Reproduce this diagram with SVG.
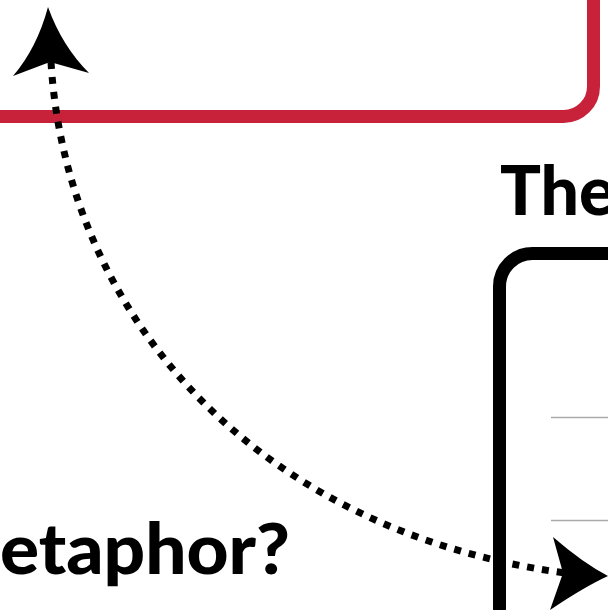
<svg xmlns="http://www.w3.org/2000/svg" width="608" height="610" viewBox="0 0 608 610">
<style>
.title{font-family:"Lato","Liberation Sans",sans-serif;font-weight:900;fill:#000}
.grid{stroke:#aaaaaa;stroke-width:1.5;fill:none}
</style>
<rect width="608" height="610" fill="#fff"/>
<g id="red-box">
<path d="M-20,116.5 H563.5 A30,30 0 0 0 593.5,86.5 V-20" fill="none" stroke="#c8223a" stroke-width="13"/>
</g>
<g id="black-box">
<path d="M499.5,620 V286.5 A33,33 0 0 1 532.5,253.5 H620" fill="none" stroke="#000" stroke-width="13"/>
<line class="grid" x1="551" y1="417.5" x2="608" y2="417.5"/>
<line class="grid" x1="551" y1="520.5" x2="608" y2="520.5"/>
<text class="title" x="500" y="215" font-size="68">The</text>
</g>
<g id="question">
<text class="title" x="0" y="574" font-size="70" textLength="290" lengthAdjust="spacingAndGlyphs">etaphor?</text>
</g>
<g id="connectors">
<path d="M51,62 C66,310 250,530 565,573" fill="none" stroke="#000" stroke-width="7" stroke-dasharray="7 8"/>
<path d="M48,7 Q62,46 89,73 L50,62 L13,76 Q37,48 48,7 Z" fill="#000"/>
<path d="M608,576 Q584,587 550,610 L563,573 L553,537 Q583,563 608,576 Z" fill="#000"/>
</g>
</svg>
